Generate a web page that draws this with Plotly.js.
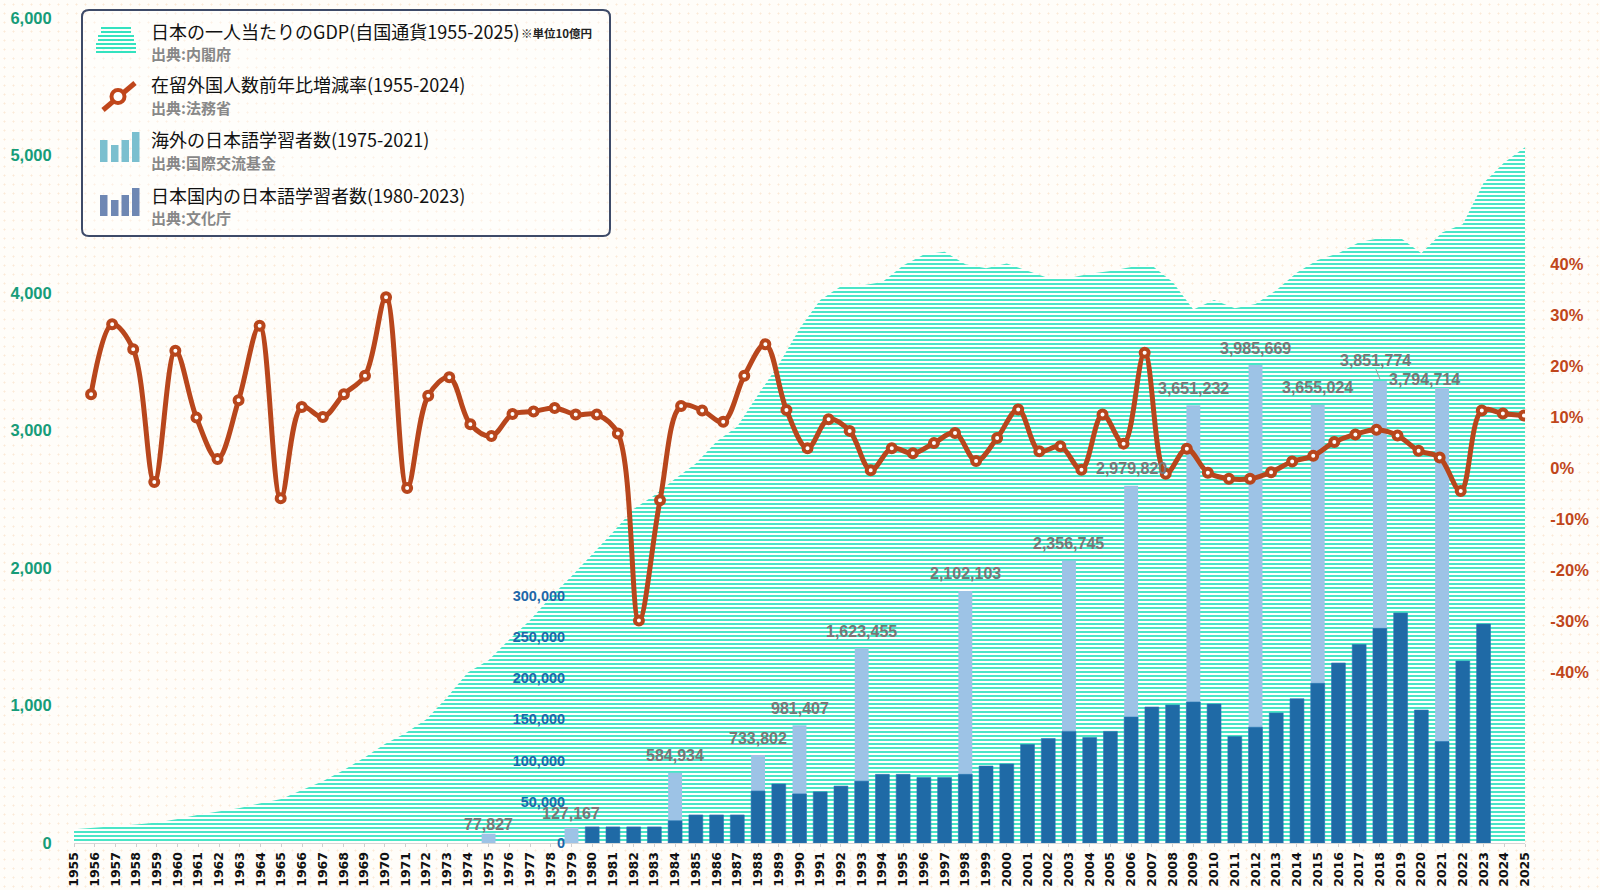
<!DOCTYPE html>
<html lang="ja">
<head>
<meta charset="utf-8">
<script src="https://cdn.plot.ly/plotly-3.0.1.min.js"></script>
<style>
  html, body {
    margin: 0;
    padding: 0;
    background-color: #fffdf9;
    background-image: radial-gradient(circle, rgba(240, 190, 140, 0.30) 0.8px, transparent 1.3px);
    background-size: 9px 9px;
  }
  #chart {
    width: 1600px;
    height: 890px;
  }
</style>
</head>
<body>
<div id="chart"></div>
<script>
// 年（横軸）
var years = [
  1955, 1956, 1957, 1958, 1959, 1960, 1961, 1962, 1963, 1964,
  1965, 1966, 1967, 1968, 1969, 1970, 1971, 1972, 1973, 1974,
  1975, 1976, 1977, 1978, 1979, 1980, 1981, 1982, 1983, 1984,
  1985, 1986, 1987, 1988, 1989, 1990, 1991, 1992, 1993, 1994,
  1995, 1996, 1997, 1998, 1999, 2000, 2001, 2002, 2003, 2004,
  2005, 2006, 2007, 2008, 2009, 2010, 2011, 2012, 2013, 2014,
  2015, 2016, 2017, 2018, 2019, 2020, 2021, 2022, 2023, 2024,
  2025
];

// 一人当たりGDP（左軸）
var gdpValues = [
  100, 110, 124, 135, 150, 174, 205, 228, 255, 290,
  320, 385, 450, 530, 620, 720, 800, 900, 1060, 1240,
  1330, 1480, 1620, 1790, 1940, 2100, 2260, 2430, 2530, 2650,
  2760, 2920, 3030, 3260, 3480, 3740, 3950, 4050, 4055, 4080,
  4200, 4280, 4300, 4210, 4180, 4215, 4160, 4110, 4110, 4140,
  4160, 4190, 4200, 4080, 3880, 3950, 3890, 3920, 4020, 4150,
  4240, 4290, 4370, 4400, 4400, 4290, 4440, 4500, 4800, 4950,
  5060
];

// 在留外国人数 前年比（右軸, %）
var rateYears = [
  1956, 1957, 1958, 1959, 1960, 1961, 1962, 1963, 1964, 1965,
  1966, 1967, 1968, 1969, 1970, 1971, 1972, 1973, 1974, 1975,
  1976, 1977, 1978, 1979, 1980, 1981, 1982, 1983, 1984, 1985,
  1986, 1987, 1988, 1989, 1990, 1991, 1992, 1993, 1994, 1995,
  1996, 1997, 1998, 1999, 2000, 2001, 2002, 2003, 2004, 2005,
  2006, 2007, 2008, 2009, 2010, 2011, 2012, 2013, 2014, 2015,
  2016, 2017, 2018, 2019, 2020, 2021, 2022, 2023, 2024
];
var rateValues = [
  14.6, 28.3, 23.4, -2.6, 23.1, 10.0, 1.9, 13.4, 28.0, -5.8,
  12.1, 10.1, 14.6, 18.2, 33.6, -3.8, 14.3, 17.9, 8.7, 6.4,
  10.7, 11.2, 11.9, 10.6, 10.6, 6.9, -29.8, -6.2, 12.3, 11.4,
  9.2, 18.2, 24.4, 11.5, 4.0, 9.7, 7.4, -0.3, 4.0, 3.0,
  5.0, 7.0, 1.5, 6.0, 11.6, 3.4, 4.4, -0.2, 10.6, 4.9,
  22.7, -1.0, 3.9, -0.8, -2.0, -2.0, -0.7, 1.4, 2.5, 5.2,
  6.7, 7.6, 6.5, 3.5, 2.2, -4.4, 11.4, 10.8, 10.4
];

// 海外の日本語学習者数
var overseasYears = [1975, 1979, 1984, 1988, 1990, 1993, 1998, 2003, 2006, 2009, 2012, 2015, 2018, 2021];
var overseasValues = [77827, 127167, 584934, 733802, 981407, 1623455, 2102103, 2356745, 2979820, 3651232, 3985669, 3655024, 3851774, 3794714];

// 日本国内の日本語学習者数
var domesticYears = [
  1980, 1981, 1982, 1983, 1984, 1985, 1986, 1987, 1988, 1989,
  1990, 1991, 1992, 1993, 1994, 1995, 1996, 1997, 1998, 1999,
  2000, 2001, 2002, 2003, 2004, 2005, 2006, 2007, 2008, 2009,
  2010, 2011, 2012, 2013, 2014, 2015, 2016, 2017, 2018, 2019,
  2020, 2021, 2022, 2023
];
var domesticValues = [
  19500, 19500, 19500, 19500, 27000, 34000, 34000, 34000, 63000, 71500,
  59500, 62000, 69000, 75000, 83200, 83200, 79400, 79400, 83200, 93300,
  95800, 119300, 126700, 135300, 127900, 135300, 152700, 164800, 167300, 170900,
  168500, 129200, 140300, 157600, 174900, 193500, 218200, 240500, 260200, 278800,
  161200, 123000, 220600, 265400
];

var gdpTicks = [0, 1000, 2000, 3000, 4000, 5000, 6000];
var pctTicks = [-40, -30, -20, -10, 0, 10, 20, 30, 40];
var pctLabels = ['-40%', '-30%', '-20%', '-10%', '0%', '10%', '20%', '30%', '40%'];
var domesticTicks = [0, 50000, 100000, 150000, 200000, 250000, 300000];

// 凡例
var legendItems = [
  { title: '日本の一人当たりのGDP(自国通貨1955-2025)', source: '出典:内閣府' },
  { title: '在留外国人数前年比増減率(1955-2024)', source: '出典:法務省' },
  { title: '海外の日本語学習者数(1975-2021)', source: '出典:国際交流基金' },
  { title: '日本国内の日本語学習者数(1980-2023)', source: '出典:文化庁' }
];
var gdpUnitNote = '※単位10億円';

// ---- styling ----
var W = 1600, H = 890;
var M = { l: 74, r: 75, t: 18, b: 47, pad: 0 };
var RUST = '#b8461c';
var TEAL = '#34e2bf';
var LIGHT_BAR = '#9dc3e6';
var DARK_BAR = '#1f6aa6';
var NUM_FONT = 'Liberation Sans, Arial, sans-serif';
var JP_FONT = 'Noto Sans CJK JP, Noto Sans, sans-serif';

function fx(p) { return (p - M.l) / (W - M.l - M.r); }
function fy(p) { return (H - M.b - p) / (H - M.t - M.b); }

// label nudges (pixels) for a few crowded overseas labels
var labelNudge = {
  1975: { dx: 0, dy: 9 },
  1979: { dx: 0, dy: 14 },
  2018: { dx: -4, dy: 21 },
  2021: { dx: -18, dy: 8 }
};

var gdpTrace = {
  x: years,
  y: gdpValues,
  type: 'scatter',
  mode: 'lines',
  fill: 'tozeroy',
  line: { width: 0, color: TEAL },
  fillcolor: 'rgba(255,255,255,0.9)',
  fillpattern: {
    shape: '-',
    fgcolor: TEAL,
    bgcolor: 'rgba(255,255,255,0.9)',
    size: 4,
    solidity: 0.45
  },
  hoverinfo: 'skip',
  xaxis: 'x',
  yaxis: 'y'
};

var overseasTrace = {
  x: overseasYears,
  y: overseasValues,
  type: 'bar',
  width: 0.67,
  marker: { color: LIGHT_BAR },
  hoverinfo: 'skip',
  xaxis: 'x',
  yaxis: 'y2'
};

var domesticTrace = {
  x: domesticYears,
  y: domesticValues,
  type: 'bar',
  width: 0.67,
  marker: { color: DARK_BAR, line: { color: '#2a78b5', width: 0.6 } },
  hoverinfo: 'skip',
  xaxis: 'x',
  yaxis: 'y3'
};

var rateTrace = {
  x: rateYears,
  y: rateValues,
  type: 'scatter',
  mode: 'lines+markers',
  line: { color: RUST, width: 5, shape: 'spline', smoothing: 1 },
  marker: { size: 8, color: '#ffffff', line: { color: RUST, width: 4 } },
  hoverinfo: 'skip',
  xaxis: 'x2',
  yaxis: 'y4'
};

var annotations = [];
var shapes = [];

overseasYears.forEach(function (yr, i) {
  var nudge = labelNudge[yr] || { dx: 0, dy: 17 };
  annotations.push({
    x: yr,
    y: overseasValues[i],
    xref: 'x',
    yref: 'y2',
    text: overseasValues[i].toLocaleString('en-US'),
    showarrow: false,
    xanchor: 'center',
    yanchor: 'middle',
    xshift: nudge.dx,
    yshift: nudge.dy,
    font: { family: NUM_FONT, size: 16, color: '#777777', weight: 'bold' }
  });
});

// leader line for the 2018 label
shapes.push({
  type: 'line',
  xref: 'x',
  yref: 'y2',
  xsizemode: 'pixel',
  ysizemode: 'pixel',
  xanchor: overseasYears[12],
  yanchor: overseasValues[12],
  x0: -4, x1: 0, y0: 12, y1: 2,
  line: { color: '#9a9a9a', width: 1 }
});

// legend frame (rounded)
function roundedRect(x0, y0, x1, y1, r) {
  function P(x, y) { return fx(x) + ',' + fy(y); }
  return 'M' + P(x0 + r, y0) +
    ' L' + P(x1 - r, y0) + ' Q' + P(x1, y0) + ' ' + P(x1, y0 + r) +
    ' L' + P(x1, y1 - r) + ' Q' + P(x1, y1) + ' ' + P(x1 - r, y1) +
    ' L' + P(x0 + r, y1) + ' Q' + P(x0, y1) + ' ' + P(x0, y1 - r) +
    ' L' + P(x0, y0 + r) + ' Q' + P(x0, y0) + ' ' + P(x0 + r, y0) + ' Z';
}
shapes.push({
  type: 'path',
  xref: 'paper',
  yref: 'paper',
  path: roundedRect(82, 10, 610, 236, 7),
  fillcolor: 'rgba(255,255,255,0.35)',
  line: { color: '#3d4a68', width: 2 }
});

// icon 1: stripes
[28, 32, 36, 40, 44, 48, 52].forEach(function (yy, k) {
  var inset = k < 2 ? 5 : (k < 4 ? 2 : 0);
  shapes.push({
    type: 'line', xref: 'paper', yref: 'paper',
    x0: fx(96 + inset), x1: fx(136 - inset), y0: fy(yy), y1: fy(yy),
    line: { color: TEAL, width: 2 }
  });
});

// icon 2: line with marker
shapes.push({
  type: 'line', xref: 'paper', yref: 'paper',
  x0: fx(103), y0: fy(110), x1: fx(135), y1: fy(83),
  line: { color: '#c0461b', width: 5 }
});
shapes.push({
  type: 'circle', xref: 'paper', yref: 'paper',
  x0: fx(111.5), x1: fx(124.5), y0: fy(103), y1: fy(90),
  fillcolor: '#ffffff',
  line: { color: '#c0461b', width: 4 }
});

// icons 3 and 4: bars
function barIcon(bottom, tops, color) {
  var lefts = [100, 111, 121.5, 132];
  lefts.forEach(function (lx, k) {
    shapes.push({
      type: 'rect', xref: 'paper', yref: 'paper',
      x0: fx(lx), x1: fx(lx + 7.5), y0: fy(bottom), y1: fy(tops[k]),
      fillcolor: color, line: { width: 0 }
    });
  });
}
barIcon(162, [140, 145, 140, 132], '#7bbfcf');
barIcon(216, [195, 200, 195, 188], '#6e87b3');

var legendRows = [
  { ty: 31, sy: 53.5 },
  { ty: 84.5, sy: 107.5 },
  { ty: 139.5, sy: 162 },
  { ty: 194.5, sy: 217.5 }
];
legendItems.forEach(function (item, i) {
  annotations.push({
    xref: 'paper', yref: 'paper',
    x: fx(149), y: fy(legendRows[i].ty),
    xanchor: 'left', yanchor: 'middle',
    text: item.title, showarrow: false,
    font: { family: JP_FONT, size: 18, color: '#111111' }
  });
  annotations.push({
    xref: 'paper', yref: 'paper',
    x: fx(149), y: fy(legendRows[i].sy),
    xanchor: 'left', yanchor: 'middle',
    text: item.source, showarrow: false,
    font: { family: JP_FONT, size: 15, color: '#888888', weight: 'bold' }
  });
});
annotations.push({
  xref: 'paper', yref: 'paper',
  x: fx(519), y: fy(33),
  xanchor: 'left', yanchor: 'middle',
  text: gdpUnitNote, showarrow: false,
  font: { family: JP_FONT, size: 11.5, color: '#222222', weight: 'bold' }
});

var layout = {
  width: W,
  height: H,
  margin: M,
  showlegend: false,
  hovermode: false,
  paper_bgcolor: 'rgba(0,0,0,0)',
  plot_bgcolor: 'rgba(0,0,0,0)',
  xaxis: {
    type: 'linear',
    range: [1955, 2025],
    tickvals: years,
    ticktext: years.map(String),
    tickangle: -90,
    tickfont: { family: 'DejaVu Sans, sans-serif', size: 12.5, color: '#111111', weight: 'bold' },
    showgrid: false,
    zeroline: false,
    showline: true,
    linecolor: '#d6d6d6',
    linewidth: 1,
    ticks: 'outside',
    ticklen: 3,
    tickcolor: '#cfcfcf'
  },
  xaxis2: {
    type: 'linear',
    overlaying: 'x',
    range: [1955.19, 2024.05],
    visible: false
  },
  yaxis: {
    range: [0, 6000],
    tickvals: gdpTicks,
    tickformat: ',d',
    tickfont: { family: NUM_FONT, size: 16.5, color: '#179c79', weight: 'bold' },
    ticks: 'outside',
    ticklen: 18,
    tickcolor: 'rgba(0,0,0,0)',
    showgrid: false,
    zeroline: false,
    showline: false
  },
  yaxis2: {
    overlaying: 'y',
    range: [0, 6880000],
    visible: false
  },
  yaxis3: {
    overlaying: 'y',
    anchor: 'free',
    position: fx(571),
    side: 'left',
    range: [0, 1000000],
    tickvals: domesticTicks,
    tickformat: ',d',
    tickfont: { family: NUM_FONT, size: 14.5, color: '#1d67a8', weight: 'bold' },
    ticks: 'outside',
    ticklen: 3,
    tickcolor: 'rgba(0,0,0,0)',
    showgrid: false,
    zeroline: false,
    showline: false
  },
  yaxis4: {
    overlaying: 'y',
    anchor: 'x2',
    side: 'right',
    range: [-73.4, 88.35],
    tickvals: pctTicks,
    ticktext: pctLabels,
    tickfont: { family: NUM_FONT, size: 16.5, color: '#c0461b', weight: 'bold' },
    ticks: 'outside',
    ticklen: 21,
    tickcolor: 'rgba(0,0,0,0)',
    showgrid: false,
    zeroline: false,
    showline: false
  },
  shapes: shapes,
  annotations: annotations
};

var config = {
  displayModeBar: false,
  responsive: false
};

Plotly.newPlot('chart', [gdpTrace, overseasTrace, domesticTrace, rateTrace], layout, config);
</script>
</body>
</html>
